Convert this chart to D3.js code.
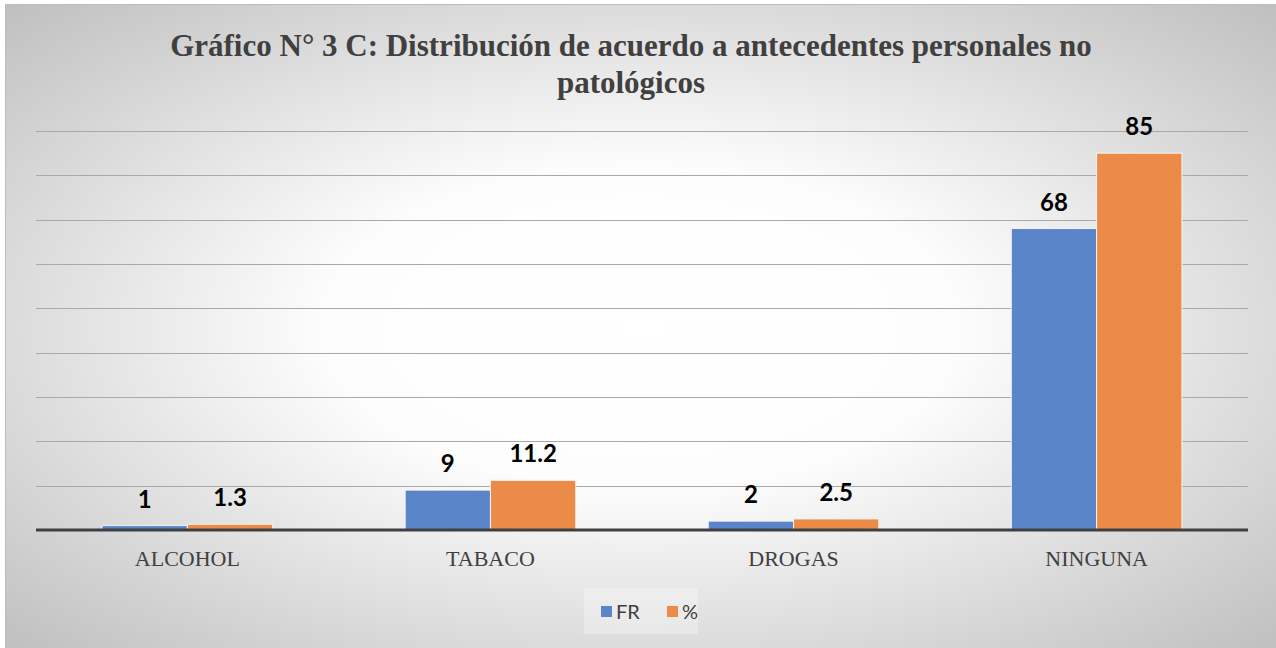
<!DOCTYPE html>
<html>
<head>
<meta charset="utf-8">
<script src="https://cdn.jsdelivr.net/npm/d3@7"></script>
<style>
  body { margin: 0; background: #fff; }
  svg { display: block; }
</style>
</head>
<body>
<svg id="chart"></svg>
<script>
var screen = {width: 1276, height: 648}
var margins = {top: 131, right: 28, bottom: 118, left: 36}

// data
var categories = ["ALCOHOL", "TABACO", "DROGAS", "NINGUNA"]
var seriesNames = ["FR", "%"]
var frValues = [1, 9, 2, 68]
var pctValues = [1.3, 11.2, 2.5, 85]
var pctLabels = ["1.3", "11.2", "2.5", "85"]
var yTicks = [0, 10, 20, 30, 40, 50, 60, 70, 80, 90]
var colors = ["#5b85c9", "#ec8a48"]
var titleLines = ["Gráfico N° 3 C: Distribución de acuerdo a antecedentes personales no", "patológicos"]

var svg = d3.select("#chart")
  .attr("width", screen.width)
  .attr("height", screen.height)

// background with radial gradient like the office chart
var defs = svg.append("defs")
var grad = defs.append("radialGradient")
  .attr("id", "bg")
  .attr("cx", "0.5").attr("cy", "0.5").attr("r", "0.7")
grad.append("stop").attr("offset", "0").attr("stop-color", "#ffffff")
grad.append("stop").attr("offset", "0.35").attr("stop-color", "#fdfdfd")
grad.append("stop").attr("offset", "1").attr("stop-color", "#c0c0c0")

svg.append("rect")
  .attr("x", 5.5).attr("y", 4.5)
  .attr("width", screen.width - 5).attr("height", screen.height - 3)
  .attr("fill", "url(#bg)")
  .attr("stroke", "#bdbdbd")

var width = screen.width - margins.left - margins.right
var height = screen.height - margins.top - margins.bottom

var g = svg.append("g")
  .attr("transform", "translate(" + margins.left + "," + margins.top + ")")

var xScale = d3.scaleBand()
  .domain(categories)
  .range([0, width])
  .paddingInner(0.437)
  .paddingOuter(0.218)

var xInner = d3.scaleBand()
  .domain(seriesNames)
  .range([0, xScale.bandwidth()])

var yScale = d3.scaleLinear()
  .domain([0, 90])
  .range([height, 0])

// gridlines
g.append("g")
  .selectAll("line")
  .data(yTicks.slice(1))
  .enter()
  .append("line")
  .attr("x1", 0).attr("x2", width)
  .attr("y1", function(d) { return Math.round(yScale(d)) + 0.5 })
  .attr("y2", function(d) { return Math.round(yScale(d)) + 0.5 })
  .attr("stroke", "#a9a9a9")
  .attr("stroke-width", 1)

var rows = categories.map(function(c, i) {
  return [
    {cat: c, s: "FR", v: frValues[i], label: String(frValues[i]), color: colors[0]},
    {cat: c, s: "%", v: pctValues[i], label: pctLabels[i], color: colors[1]}
  ]
})

var groups = g.selectAll(".grp")
  .data(rows)
  .enter()
  .append("g")
  .attr("class", "grp")
  .attr("transform", function(d) { return "translate(" + xScale(d[0].cat) + ",0)" })

groups.selectAll("rect")
  .data(function(d) { return d })
  .enter()
  .append("rect")
  .attr("x", function(d) { return xInner(d.s) })
  .attr("y", function(d) { return yScale(d.v) })
  .attr("width", xInner.bandwidth())
  .attr("height", function(d) { return height - yScale(d.v) })
  .attr("fill", function(d) { return d.color })
  .attr("stroke", "#f4f4f4")
  .attr("stroke-width", 1)

groups.selectAll("text")
  .data(function(d) { return d })
  .enter()
  .append("text")
  .attr("x", function(d) { return xInner(d.s) + xInner.bandwidth() / 2 })
  .attr("y", function(d) { return yScale(d.v) - 18 })
  .attr("text-anchor", "middle")
  .style("font-family", "Lato, 'Open Sans', sans-serif")
  .style("font-weight", "bold")
  .style("font-size", "24px")
  .attr("fill", "#000")
  .text(function(d) { return d.label })

// baseline
g.append("line")
  .attr("x1", 0).attr("x2", width)
  .attr("y1", height).attr("y2", height)
  .attr("stroke", "#404040")
  .attr("stroke-width", 3)

// category axis
var xAxis = d3.axisBottom(xScale).tickSize(0).tickPadding(20)
var ax = g.append("g")
  .attr("transform", "translate(0," + height + ")")
  .call(xAxis)
ax.select(".domain").remove()
ax.selectAll("text")
  .style("font-family", "'Liberation Serif', 'Times New Roman', serif")
  .style("font-size", "22px")
  .attr("fill", "#404040")

// title
svg.append("text")
  .attr("text-anchor", "middle")
  .style("font-family", "'Liberation Serif', 'Times New Roman', serif")
  .style("font-weight", "bold")
  .style("font-size", "31px")
  .attr("fill", "#404040")
  .selectAll("tspan")
  .data(titleLines)
  .enter()
  .append("tspan")
  .attr("x", 631)
  .attr("y", function(d, i) { return 56 + i * 37 })
  .text(function(d) { return d })

// legend
var legend = svg.append("g").attr("transform", "translate(584,588)")
legend.append("rect")
  .attr("width", 114).attr("height", 46)
  .attr("fill", "#ffffff").attr("opacity", 0.3)
var items = [{name: seriesNames[0], x: 17, color: colors[0]}, {name: seriesNames[1], x: 83, color: colors[1]}]
var li = legend.selectAll(".li")
  .data(items)
  .enter()
  .append("g")
  .attr("transform", function(d) { return "translate(" + d.x + ",0)" })
li.append("rect")
  .attr("y", 18).attr("width", 11).attr("height", 11)
  .attr("fill", function(d) { return d.color })
li.append("text")
  .attr("x", 15).attr("y", 31)
  .style("font-family", "Lato, 'Open Sans', sans-serif")
  .style("font-size", "20px")
  .attr("fill", "#404040")
  .text(function(d) { return d.name })
</script>
</body>
</html>
